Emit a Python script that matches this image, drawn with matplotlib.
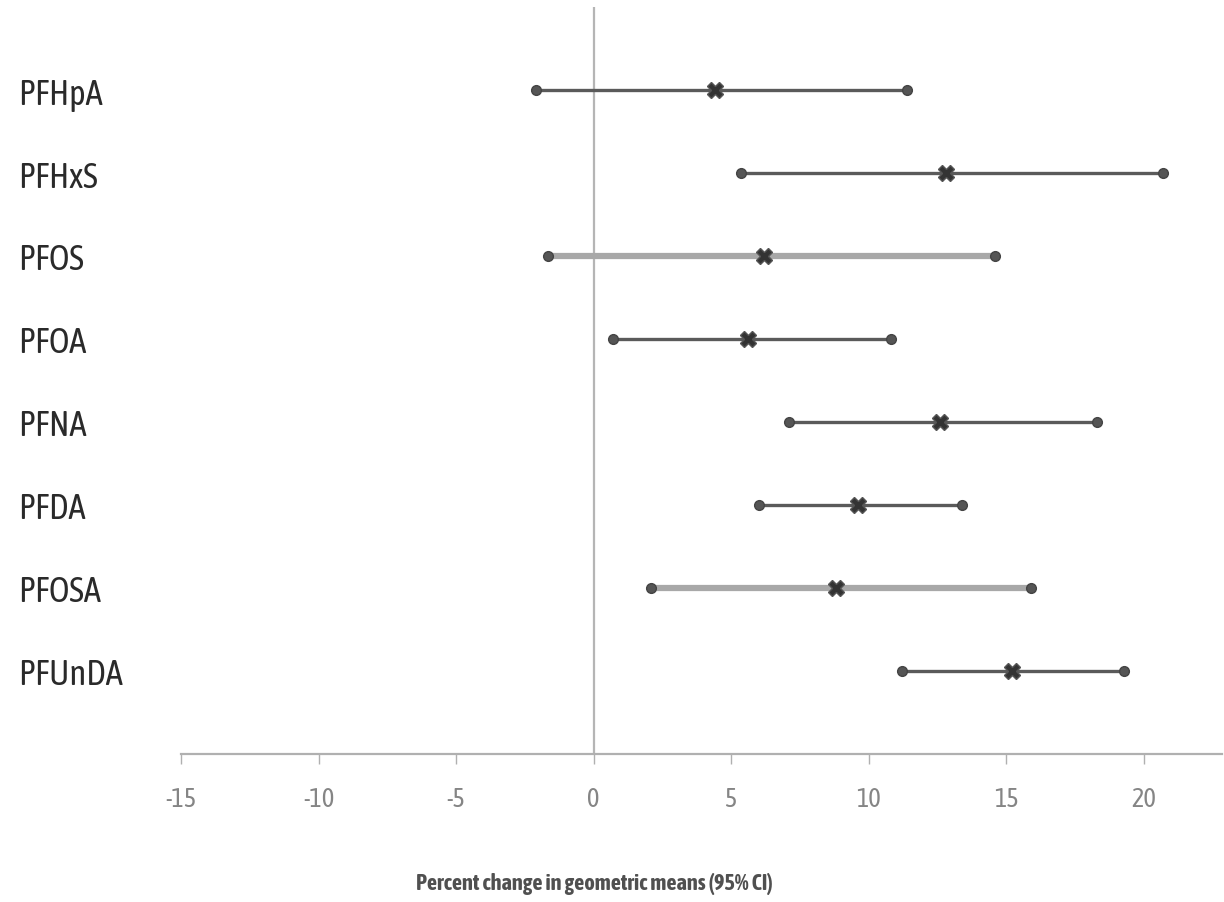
import matplotlib.pyplot as plt
import numpy as np

compounds = ["PFHpA", "PFHxS", "PFOS", "PFOA", "PFNA", "PFDA", "PFOSA", "PFUnDA"]
estimate = [4.4, 12.8, 6.2, 5.6, 12.6, 9.6, 8.8, 15.2]
lower = [-2.1, 5.35, -1.65, 0.7, 7.1, 6.0, 2.1, 11.2]
upper = [11.4, 20.7, 14.6, 10.8, 18.3, 13.4, 15.9, 19.3]
light_rows = ["PFOS", "PFOSA"]
xticks = [-15, -10, -5, 0, 5, 10, 15, 20]

plt.rcParams['font.family'] = ['Asap Condensed', 'DejaVu Sans']

fig = plt.figure(figsize=(12.24, 9.03), dpi=100)
ax = fig.add_axes([181/1224, 148/903, (1222-181)/1224, (755-8)/903])

ypos = np.arange(1, len(compounds) + 1)
ax.axvline(0, color="#b5b5b5", lw=1.6, zorder=1)

for y, name, lo, hi, est in zip(ypos, compounds, lower, upper, estimate):
    light = name in light_rows
    ax.hlines(y, lo, hi, color="#a8a8a8" if light else "#5a5a5a",
              lw=4.5 if light else 2.4, zorder=2)
    ax.plot([lo, hi], [y, y], 'o', ms=7, color="#555555", mec="#444444", zorder=3)
    ax.plot([est], [y], 'X', ms=12, color="#333333", mec="#555555", mew=1, zorder=4)

ax.set_xlim(-15, 22.85)
ax.set_ylim(9, 0)
ax.set_xticks(xticks)
ax.set_xticklabels([str(t) for t in xticks], color="#858585", fontsize=19)
ax.tick_params(axis='x', direction='out', length=7, width=1, color="#b0b0b0", pad=16)
ax.set_yticks(ypos)
ax.set_yticklabels(compounds, fontsize=25, color="#2a2a2a", ha='left')
ax.tick_params(axis='y', length=0, pad=117)

for s in ["top", "right", "left"]:
    ax.spines[s].set_visible(False)
ax.spines["bottom"].set_color("#b0b0b0")
ax.spines["bottom"].set_linewidth(1.6)

fig.text(594/1224, 1 - 884/903, "Percent change in geometric means (95% CI)",
         ha='center', va='center', fontsize=16, fontweight='bold', color="#505050")

fig.savefig("out.png", dpi=100)
